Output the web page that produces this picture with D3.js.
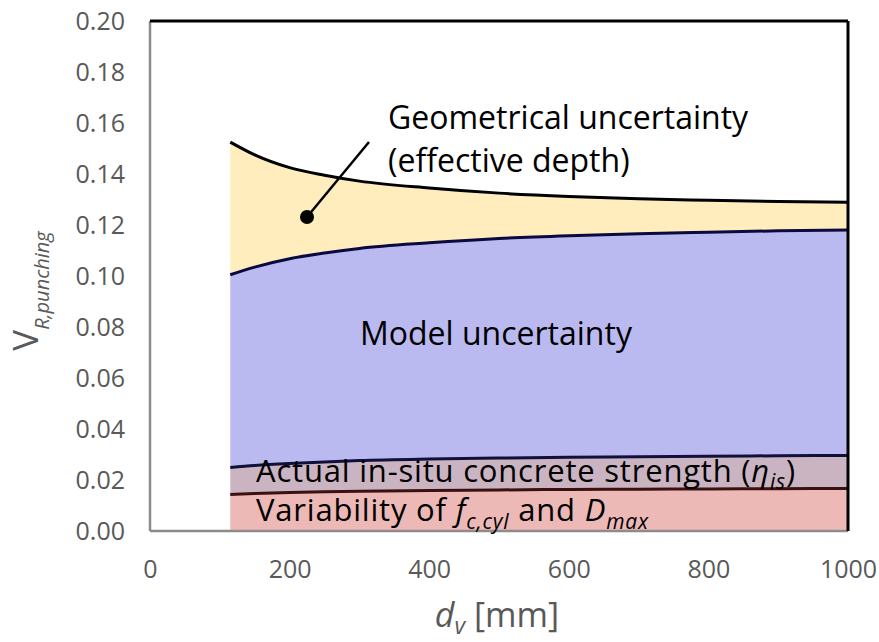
<!DOCTYPE html>
<html>
<head>
<meta charset="utf-8">
<script src="https://cdn.jsdelivr.net/npm/d3@7"></script>
<style>
  body { margin: 0; background: #fff; }
  text { font-family: "Open Sans", "Noto Sans", sans-serif; }
</style>
</head>
<body>
<div id="main"></div>
<script>
// d_v [mm] and the upper bound of each band
const dv = [115, 150, 200, 250, 300, 400, 500, 600, 700, 800, 900, 1000];
const geomTop = [0.1525, 0.1475, 0.1425, 0.1395, 0.1372, 0.1345, 0.1325, 0.1312, 0.1303, 0.1297, 0.1292, 0.1289];
const modelTop = [0.1005, 0.1035, 0.1068, 0.1090, 0.1108, 0.1130, 0.1147, 0.1158, 0.1166, 0.1172, 0.1177, 0.1180];
const insituTop = [0.0249, 0.0257, 0.0265, 0.0271, 0.0276, 0.0282, 0.0286, 0.0289, 0.0291, 0.0293, 0.0295, 0.0296];
const varTop = [0.0143, 0.0147, 0.0151, 0.0154, 0.0156, 0.0159, 0.0161, 0.0163, 0.0164, 0.0165, 0.0166, 0.0167];

const xTicks = [0, 200, 400, 600, 800, 1000];
const yTicks = [0, 0.02, 0.04, 0.06, 0.08, 0.10, 0.12, 0.14, 0.16, 0.18, 0.20];

const W = 879, H = 642;
const mLeft = 150, mTop = 21, width = 698, height = 510;

const x = d3.scaleLinear().domain([0, 1000]).range([0, width]);
const y = d3.scaleLinear().domain([0, 0.2]).range([height, 0]);

const svg = d3.select('#main').append('svg').attr('width', W).attr('height', H);
const g = svg.append('g').attr('transform', `translate(${mLeft}, ${mTop})`);

const zeros = dv.map(() => 0);
const bands = [
  { lo: zeros, hi: varTop, fill: '#edb9b7', stroke: '#3a1010' },
  { lo: varTop, hi: insituTop, fill: '#cbb4c2', stroke: '#10103a' },
  { lo: insituTop, hi: modelTop, fill: '#babaf0', stroke: '#0a0a40' },
  { lo: modelTop, hi: geomTop, fill: '#ffedbd', stroke: '#000' }
];

bands.forEach(b => {
  const area = d3.area()
    .x((d, i) => x(dv[i]))
    .y0((d, i) => y(b.lo[i]))
    .y1((d, i) => y(b.hi[i]))
    .curve(d3.curveMonotoneX);
  g.append('path').attr('d', area(dv)).attr('fill', b.fill);
});

// right edge outlines of the bands
bands.forEach(b => {
  const n = dv.length - 1;
  g.append('line')
    .attr('x1', x(dv[n])).attr('x2', x(dv[n]))
    .attr('y1', y(b.lo[n])).attr('y2', y(b.hi[n]))
    .attr('stroke', b.stroke).attr('stroke-width', 2);
});

// upper boundary lines
bands.forEach(b => {
  const line = d3.line()
    .x((d, i) => x(dv[i]))
    .y((d, i) => y(b.hi[i]))
    .curve(d3.curveMonotoneX);
  g.append('path').attr('d', line(dv))
    .attr('fill', 'none').attr('stroke', b.stroke).attr('stroke-width', 3);
});

// frame: gray axes left/bottom, black top/right
g.append('line').attr('x1', 0).attr('x2', 0).attr('y1', 0).attr('y2', height)
  .attr('stroke', '#8c8c8c').attr('stroke-width', 2.5);
g.append('line').attr('x1', 0).attr('x2', width).attr('y1', height).attr('y2', height)
  .attr('stroke', '#8c8c8c').attr('stroke-width', 2.5);
g.append('line').attr('x1', 0).attr('x2', width).attr('y1', 0).attr('y2', 0)
  .attr('stroke', '#000').attr('stroke-width', 3);
g.append('line').attr('x1', width).attr('x2', width).attr('y1', 0).attr('y2', height)
  .attr('stroke', '#000').attr('stroke-width', 3);

// axes
const yAxis = d3.axisLeft(y).tickValues(yTicks).tickSize(0).tickPadding(25)
  .tickFormat(d3.format('.2f'));
const xAxis = d3.axisBottom(x).tickValues(xTicks).tickSize(0).tickPadding(29)
  .tickFormat(d3.format('d'));

const ya = g.append('g').call(yAxis);
const xa = g.append('g').attr('transform', `translate(0, ${height})`).call(xAxis);
[ya, xa].forEach(a => {
  a.select('.domain').remove();
  a.selectAll('text').attr('fill', '#595959').style('font-size', '25px')
    .style('font-family', '"Open Sans", sans-serif');
});

// axis titles
const xt = svg.append('text').attr('x', 497).attr('y', 627)
  .attr('text-anchor', 'middle').attr('fill', '#595959').style('font-size', '34px');
xt.append('tspan').text('d').style('font-style', 'italic');
xt.append('tspan').text('v').style('font-style', 'italic').style('font-size', '23px').attr('dy', 7);
xt.append('tspan').text(' [mm]').attr('dy', -7);

const yt = svg.append('text').attr('transform', 'translate(38, 291) rotate(-90)')
  .attr('text-anchor', 'middle').attr('fill', '#595959').style('font-size', '35px');
yt.append('tspan').text('V');
yt.append('tspan').text('R,punching').style('font-style', 'italic').style('font-size', '20px').attr('dy', 11);

// annotations
const ann = g.append('g').attr('fill', '#000');
ann.append('line').attr('x1', 369 - mLeft).attr('y1', 142 - mTop)
  .attr('x2', 307 - mLeft).attr('y2', 217 - mTop)
  .attr('stroke', '#000').attr('stroke-width', 2.5);
ann.append('circle').attr('cx', 307 - mLeft).attr('cy', 217 - mTop).attr('r', 7);

const lab = (px, py, size) => svg.append('text').attr('x', px).attr('y', py)
  .attr('fill', '#000').style('font-size', size + 'px');

lab(388, 129, 32).text('Geometrical uncertainty');
lab(388, 172, 32).text('(effective depth)');
lab(360, 345, 32).text('Model uncertainty');

const a1 = lab(256, 482, 31).style('letter-spacing', '0.8px');
a1.append('tspan').text('Actual in-situ concrete strength (');
a1.append('tspan').text('η').style('font-style', 'italic');
a1.append('tspan').text('is').style('font-style', 'italic').style('font-size', '21px').attr('dy', 7);
a1.append('tspan').text(')').attr('dy', -7);

const a2 = lab(256, 521, 31).style('letter-spacing', '0.8px');
a2.append('tspan').text('Variability of ');
a2.append('tspan').text('f').style('font-style', 'italic');
a2.append('tspan').text('c,cyl').style('font-style', 'italic').style('font-size', '21px').attr('dy', 8);
a2.append('tspan').text(' and ').attr('dy', -8);
a2.append('tspan').text('D').style('font-style', 'italic');
a2.append('tspan').text('max').style('font-style', 'italic').style('font-size', '21px').attr('dy', 8);
</script>
</body>
</html>
